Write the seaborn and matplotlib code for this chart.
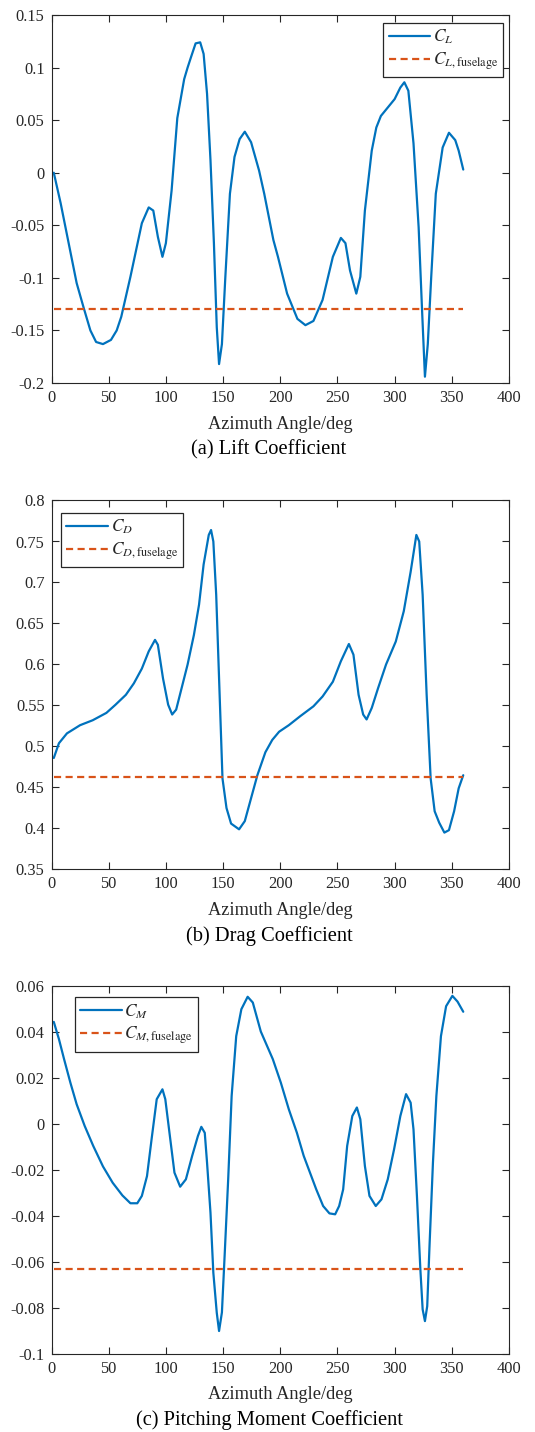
import numpy as np
import pandas as pd
import matplotlib
matplotlib.use("Agg")
import matplotlib.pyplot as plt
from matplotlib.ticker import FuncFormatter
import seaborn as sns

# ---------------- data ----------------
az_L = [2, 8, 15, 22, 28, 34, 39, 45, 52, 57, 61, 69, 79, 85, 89, 93, 97, 100, 105, 110, 116, 119,
        122, 126, 130, 133, 136, 139, 142, 144.5, 146.5, 149, 152, 156, 160, 164.5, 169, 174.5,
        181.5, 186, 190, 194, 198, 206, 215, 222, 229, 237, 246, 253, 257, 261, 266.5, 270, 274,
        280, 284, 288, 294, 300, 305, 308.5, 312, 316.5, 321, 324, 326.5, 329, 332, 336, 342, 347.5,
        353, 356, 360]
cl = [0.0, -0.029, -0.067, -0.105, -0.128, -0.150, -0.161, -0.163, -0.159, -0.150, -0.137, -0.099,
      -0.048, -0.033, -0.036, -0.061, -0.080, -0.067, -0.017, 0.052, 0.089, 0.100, 0.110, 0.123,
      0.124, 0.113, 0.075, 0.012, -0.067, -0.147, -0.182, -0.163, -0.099, -0.020, 0.015, 0.032,
      0.039, 0.029, 0.002, -0.020, -0.042, -0.064, -0.080, -0.115, -0.139, -0.145, -0.141, -0.121,
      -0.080, -0.062, -0.067, -0.093, -0.115, -0.099, -0.036, 0.021, 0.043, 0.054, 0.062, 0.070,
      0.081, 0.086, 0.078, 0.028, -0.052, -0.131, -0.194, -0.163, -0.099, -0.020, 0.024, 0.038,
      0.031, 0.021, 0.003]
cl_fuselage = -0.130

az_D = [2, 6.5, 13.5, 25, 36, 48, 56, 65, 72, 79, 85, 90.5, 93, 97.5, 102, 105.5, 109, 113, 119,
        124.5, 129, 133, 137.5, 139.5, 141.5, 144, 147, 149.5, 153, 157, 164, 169, 174.5, 180, 187,
        193, 199, 207.5, 217.5, 229, 237, 246, 253, 260, 264, 268.5, 272.5, 275.5, 280, 285.5,
        292.5, 301, 308, 314, 319, 321.5, 324.5, 328, 331.5, 335, 339, 343.5, 347.5, 352, 356, 360]
cd = [0.486, 0.504, 0.516, 0.526, 0.532, 0.541, 0.551, 0.563, 0.577, 0.595, 0.616, 0.630, 0.624,
      0.583, 0.551, 0.539, 0.545, 0.567, 0.600, 0.636, 0.673, 0.722, 0.758, 0.764, 0.750, 0.685,
      0.563, 0.461, 0.425, 0.406, 0.399, 0.409, 0.437, 0.465, 0.493, 0.508, 0.518, 0.526, 0.537,
      0.549, 0.561, 0.579, 0.604, 0.625, 0.612, 0.563, 0.539, 0.533, 0.547, 0.571, 0.600, 0.628,
      0.665, 0.713, 0.758, 0.750, 0.685, 0.563, 0.461, 0.421, 0.407, 0.395, 0.398, 0.421, 0.449,
      0.465]
cd_fuselage = 0.463

az_M = [2, 6.5, 11, 16.5, 22, 29, 36.5, 45, 53.5, 62, 69, 75, 79, 83.5, 87.5, 92, 97, 99.5, 103.5,
        107.5, 112.5, 117.5, 123, 128, 131, 134, 136, 139, 141.5, 144.5, 146.5, 149, 151.5, 154.5,
        157.5, 161.5, 166, 171.5, 176, 183, 193.5, 200.5, 207.5, 214.5, 220.5, 226, 231.5, 237.5,
        243, 248, 251.5, 255, 258.5, 263, 267, 270, 274, 278, 283.5, 288.5, 294, 299.5, 305, 310,
        314, 316.5, 319.5, 322.5, 324.5, 326.5, 328.5, 330.5, 333.5, 336.5, 340.5, 345, 350.5,
        355, 360]
cm = [0.0442, 0.0367, 0.028, 0.0178, 0.0084, -0.001, -0.0097, -0.0186, -0.0257, -0.0312, -0.0346,
      -0.0346, -0.0314, -0.0228, -0.0068, 0.0106, 0.0149, 0.0106, -0.0054, -0.0213, -0.0274,
      -0.0242, -0.014, -0.0054, -0.0014, -0.004, -0.017, -0.0387, -0.0648, -0.0822, -0.0901,
      -0.082, -0.056, -0.024, 0.012, 0.038, 0.0497, 0.0551, 0.0526, 0.040, 0.028, 0.0178, 0.0062,
      -0.0039, -0.014, -0.0213, -0.0286, -0.0358, -0.039, -0.0394, -0.0358, -0.0286, -0.0097,
      0.0033, 0.007, 0.0019, -0.0184, -0.0314, -0.0358, -0.0329, -0.0242, -0.0112, 0.0033,
      0.0128, 0.0091, -0.0025, -0.0314, -0.0633, -0.0807, -0.0858, -0.0793, -0.0532, -0.017,
      0.012, 0.038, 0.051, 0.0555, 0.053, 0.0486]
cm_fuselage = -0.0633

x_ticks = [0, 50, 100, 150, 200, 250, 300, 350, 400]
yticks_L = [-0.2, -0.15, -0.1, -0.05, 0, 0.05, 0.1, 0.15]
yticks_D = [0.35, 0.4, 0.45, 0.5, 0.55, 0.6, 0.65, 0.7, 0.75, 0.8]
yticks_M = [-0.1, -0.08, -0.06, -0.04, -0.02, 0, 0.02, 0.04, 0.06]
xlabel = "Azimuth Angle/deg"
captions = ["(a) Lift Coefficient", "(b) Drag Coefficient", "(c) Pitching Moment Coefficient"]
labels_L = [r"$C_{L}$", r"$C_{L,\mathrm{fuselage}}$"]
labels_D = [r"$C_{D}$", r"$C_{D,\mathrm{fuselage}}$"]
labels_M = [r"$C_{M}$", r"$C_{M,\mathrm{fuselage}}$"]

# ---------------- style ----------------
sns.set_style("ticks")
plt.rcParams["font.family"] = ["Liberation Serif", "DejaVu Serif"]
plt.rcParams["mathtext.fontset"] = "stix"
plt.rcParams["axes.unicode_minus"] = False
DARK = "#262626"
BLUE = "#0072BD"
ORANGE = "#D95319"

W, H = 535, 1432
fig = plt.figure(figsize=(W / 100, H / 100), dpi=100)

def px_axes(left, top, right, bottom):
    return fig.add_axes([left / W, 1 - bottom / H, (right - left) / W, (bottom - top) / H])

panels = [
    dict(box=(51.5, 15, 509, 383), az=az_L, y=cl, yf=cl_fuselage, yt=yticks_L, lab=labels_L,
         leg=dict(loc="upper right", bbox=(0.9876, 0.979)), cap_y=450),
    dict(box=(51.5, 500.5, 509, 869.5), az=az_D, y=cd, yf=cd_fuselage, yt=yticks_D, lab=labels_D,
         leg=dict(loc="upper left", bbox=(0.021, 0.967)), cap_y=936),
    dict(box=(51.5, 985.5, 509, 1353.8), az=az_M, y=cm, yf=cm_fuselage, yt=yticks_M, lab=labels_M,
         leg=dict(loc="upper left", bbox=(0.0507, 0.969)), cap_y=1420),
]

def yfmt(v, _):
    if abs(v) < 1e-12:
        return "0"
    return "%g" % round(v, 6)

for i, p in enumerate(panels):
    ax = px_axes(*p["box"])
    df = pd.DataFrame({"az": p["az"], "val": p["y"]})
    sns.lineplot(data=df, x="az", y="val", ax=ax, color=BLUE, lw=1.6, label=p["lab"][0],
                 sort=False, estimator=None)
    dff = pd.DataFrame({"az": [p["az"][0], p["az"][-1]], "val": [p["yf"], p["yf"]]})
    sns.lineplot(data=dff, x="az", y="val", ax=ax, color=ORANGE, lw=1.6, label=p["lab"][1],
                 sort=False, estimator=None)
    ax.lines[-1].set_dashes((3.2, 2.0))

    ax.set_xlim(0, 400)
    ax.set_ylim(p["yt"][0], p["yt"][-1])
    ax.set_xticks(x_ticks)
    ax.set_yticks(p["yt"])
    ax.yaxis.set_major_formatter(FuncFormatter(yfmt))
    ax.xaxis.set_major_formatter(FuncFormatter(lambda v, _: "%g" % v))
    ax.tick_params(direction="in", length=5, width=0.8, top=True, right=True,
                   colors=DARK, labelsize=11.8, pad=5)
    for s in ax.spines.values():
        s.set_visible(True)
        s.set_color(DARK)
        s.set_linewidth(0.8)
    ax.set_xlabel(xlabel, fontsize=13.2, color=DARK, labelpad=7)
    ax.set_ylabel("")
    ax.grid(False)

    leg = ax.legend(loc=p["leg"]["loc"], bbox_to_anchor=p["leg"]["bbox"], borderaxespad=0,
                    fontsize=12.5, frameon=True, fancybox=False, framealpha=1,
                    edgecolor=DARK, handlelength=2.4, handletextpad=0.15,
                    labelspacing=0.25, borderpad=0.3)
    leg.get_frame().set_linewidth(0.9)
    for t in leg.get_texts():
        t.set_color(DARK)

    fig.text(0.503, 1 - p["cap_y"] / H, captions[i], ha="center", va="center",
             fontsize=14.8, color="black")

fig.savefig("out.png", dpi=100)
